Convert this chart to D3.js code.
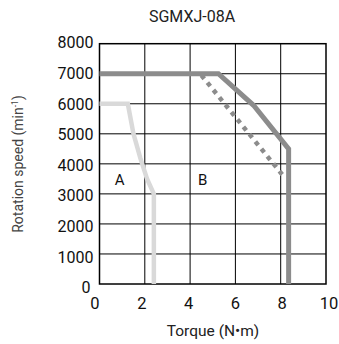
<!DOCTYPE html>
<html><head><meta charset="utf-8">
<script src="https://cdn.jsdelivr.net/npm/d3@7"></script>
<style>body{margin:0;background:#fff}svg{display:block}text{font-family:Roboto,"Noto Sans",sans-serif}</style>
</head><body>
<svg id="c" width="339" height="344"></svg>
<script>
const title = "SGMXJ-08A";
const xTicks = [0, 2, 4, 6, 8, 10];
const yTicks = [0, 1000, 2000, 3000, 4000, 5000, 6000, 7000, 8000];
// Curve A (light, continuous region)
const curveA_x = [0, 1.25, 1.5, 1.8, 2.1, 2.4, 2.4];
const curveA_y = [6000, 6000, 5000, 4200, 3500, 3000, 0];
// Curve B (dark, intermittent region)
const curveB_x = [0, 5.25, 6.8, 8.35, 8.35];
const curveB_y = [7000, 7000, 5950, 4500, 0];
// Dotted curve
const dotted_x = [4.5, 8.2];
const dotted_y = [6950, 3520];
const labels = [{t:"A", x:0.89, y:3460}, {t:"B", x:4.56, y:3460}];

const svg = d3.select("#c");
const m = {l:99.5, r:326, t:43.7, b:284};
const x = d3.scaleLinear().domain([0,10]).range([m.l, m.r]);
const y = d3.scaleLinear().domain([0,8000]).range([m.b, m.t]);
// label placement scales (labels are spread slightly wider than the grid)
const xLab = d3.scaleLinear().domain([0,10]).range([95, 329]);
const yLab = d3.scaleLinear().domain([0,8000]).range([287.5, 42.5]);

// grid
svg.append("g").selectAll("line").data(xTicks.slice(1,-1)).join("line")
  .attr("x1", d=>x(d)).attr("x2", d=>x(d)).attr("y1", m.t).attr("y2", m.b)
  .attr("stroke", "#000").attr("stroke-width", 1);
svg.append("g").selectAll("line").data(yTicks.slice(1,-1)).join("line")
  .attr("x1", m.l).attr("x2", m.r).attr("y1", d=>y(d)).attr("y2", d=>y(d))
  .attr("stroke", "#000").attr("stroke-width", 1);
svg.append("rect").attr("x", m.l).attr("y", m.t).attr("width", m.r-m.l).attr("height", m.b-m.t)
  .attr("fill", "none").attr("stroke", "#000").attr("stroke-width", 1.5);

const line = d3.line().x(d=>x(d[0])).y(d=>y(d[1]));
svg.append("path").datum(curveA_x.map((v,i)=>[v, curveA_y[i]]))
  .attr("d", line).attr("fill","none").attr("stroke","#d9d9d9").attr("stroke-width",4.5).attr("stroke-linejoin","miter");
svg.append("path").datum(dotted_x.map((v,i)=>[v, dotted_y[i]]))
  .attr("d", line).attr("fill","none").attr("stroke","#8c8c8c").attr("stroke-width",4.5).attr("stroke-dasharray","4.5 5");
svg.append("path").datum(curveB_x.map((v,i)=>[v, curveB_y[i]]))
  .attr("d", line).attr("fill","none").attr("stroke","#8c8c8c").attr("stroke-width",5).attr("stroke-linejoin","miter");

// tick labels
svg.append("g").selectAll("text").data(yTicks).join("text")
  .attr("x", d=> d===0 ? 90.5 : 93.5).attr("y", d=>yLab(d)).attr("dy","0.36em").attr("text-anchor","end")
  .attr("font-size", 16).attr("fill","#111").text(d=>d);
svg.append("g").selectAll("text").data(xTicks).join("text")
  .attr("x", d=>xLab(d)).attr("y", 309).attr("text-anchor","middle")
  .attr("font-size", 16.5).attr("fill","#111").text(d=>d);

svg.selectAll(".lab").data(labels).join("text")
  .attr("x", d=>x(d.x)).attr("y", d=>y(d.y)).attr("dy","0.36em").attr("text-anchor","middle")
  .attr("font-size", 15).attr("fill","#111").text(d=>d.t);

svg.append("text").attr("x", 192).attr("y", 21.7).attr("text-anchor","middle")
  .attr("font-size", 16).attr("fill","#222").text(title);
svg.append("text").attr("x", 213).attr("y", 336).attr("text-anchor","middle")
  .attr("font-size", 15.5).attr("fill","#222").text("Torque (N•m)");
const yl = svg.append("text").attr("text-anchor","start")
  .attr("font-size", 14).attr("fill","#444");
yl.append("tspan").text("Rotation speed (min");
yl.append("tspan").attr("font-size", 8.5).attr("dy", -5.5).text("-1");
yl.append("tspan").attr("dy", 5.5).text(")");
const len = yl.node().getComputedTextLength();
yl.attr("transform", `translate(23,${164 + len/2}) rotate(-90)`);
</script>
</body></html>
